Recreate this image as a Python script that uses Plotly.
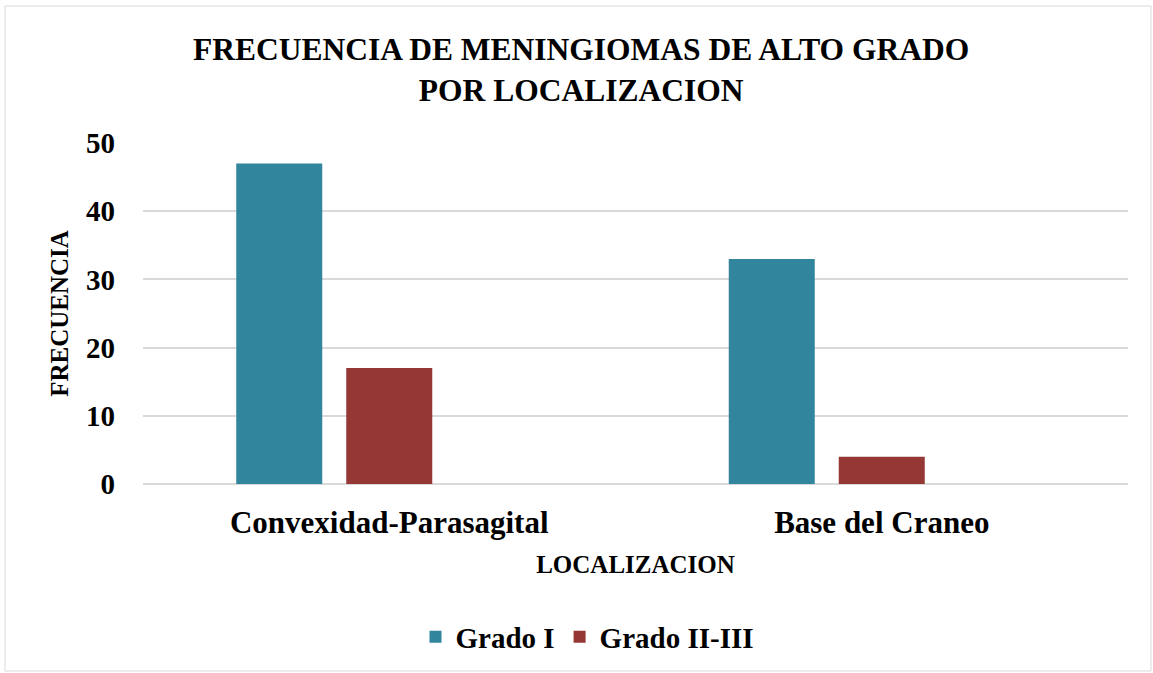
import plotly.graph_objects as go

categories = ["Convexidad-Parasagital", "Base del Craneo"]
grado_i = [47, 33]
grado_ii_iii = [17, 4]
series_names = ["Grado I", "Grado II-III"]
y_ticks = [0, 10, 20, 30, 40, 50]

FONT = "Liberation Serif"
W, H = 1153, 673
L, R, T, B = 143, 25, 143, 189
plot_w = W - L - R
plot_h = H - T - B
bar_w = 86 / (plot_w / 2)
slot = 110 / (plot_w / 2)

fig = go.Figure()
fig.add_trace(go.Bar(x=categories, y=grado_i, name=f"<b>{series_names[0]}</b>",
                     marker=dict(color="#31859C", line=dict(width=0)),
                     width=bar_w, offset=-slot - bar_w / 2))
fig.add_trace(go.Bar(x=categories, y=grado_ii_iii, name=f"<b>{series_names[1]}</b>",
                     marker=dict(color="#953735", line=dict(width=0)),
                     width=bar_w, offset=-bar_w / 2))

fig.update_layout(
    width=W, height=H,
    margin=dict(l=L, r=R, t=T, b=B, autoexpand=False),
    paper_bgcolor="white", plot_bgcolor="white",
    barmode="overlay",
    font=dict(family=FONT, color="black"),
    title=dict(text="<b>FRECUENCIA DE MENINGIOMAS DE ALTO GRADO<br>POR LOCALIZACION</b>",
               x=0.504, xanchor="center", y=0.911, yanchor="middle",
               font=dict(family=FONT, size=31.5, color="black")),
    xaxis=dict(type="category", showgrid=False, showline=False, ticks="",
               tickvals=categories, ticktext=[f"<b>{c}</b>" for c in categories],
               ticklabelstandoff=17,
               tickfont=dict(family=FONT, size=31, color="black"),
               title=dict(text="<b>LOCALIZACION</b>", standoff=16,
                          font=dict(family=FONT, size=25, color="black"))),
    yaxis=dict(range=[0, 50], tickvals=y_ticks,
               ticktext=[f"<b>{v}</b>" for v in y_ticks],
               showgrid=True, gridcolor="#D9D9D9", gridwidth=1.5,
               zeroline=True, zerolinecolor="#D9D9D9", zerolinewidth=1.5,
               showline=False, ticks="", ticklabelstandoff=27,
               tickfont=dict(family=FONT, size=29, color="black"),
               title=dict(text="<b>FRECUENCIA</b>", standoff=10,
                          font=dict(family=FONT, size=25, color="black"))),
    legend=dict(orientation="h", x=(587 - L) / plot_w, xanchor="center",
                y=-(637 - (H - B)) / plot_h, yanchor="middle",
                font=dict(family=FONT, size=29, color="black"),
                traceorder="normal", itemsizing="constant"),
    showlegend=True,
)

fig.add_shape(type="rect", xref="paper", yref="paper",
              x0=-(L - 5) / plot_w, x1=1 + (R - 2) / plot_w,
              y0=-(B - 2) / plot_h, y1=1 + (T - 6) / plot_h,
              line=dict(color="#D9D9D9", width=1), layer="below")

fig.write_html("out.html", config={"displayModeBar": False},
               post_script="document.body.style.margin='0';")
